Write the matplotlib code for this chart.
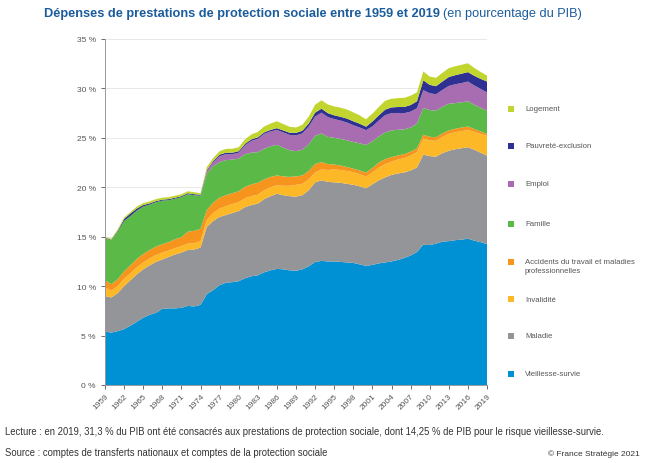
import matplotlib.pyplot as plt
from matplotlib.patches import Rectangle

plt.rcParams['font.family'] = ['Liberation Sans', 'DejaVu Sans']

# années 1959 -> 2019
annees = list(range(1959, 2020))

# part du PIB (%) par risque
vieillesse = [5.4, 5.3, 5.45, 5.65, 6.0, 6.4, 6.8, 7.1, 7.3, 7.7,
              7.75, 7.75, 7.8, 8.0, 7.95, 8.1, 9.2, 9.6, 10.1, 10.35,
              10.4, 10.5, 10.8, 11.0, 11.1, 11.4, 11.6, 11.75, 11.7, 11.6,
              11.55, 11.7, 12.0, 12.45, 12.55, 12.5, 12.5, 12.45, 12.4, 12.35,
              12.2, 12.05, 12.15, 12.3, 12.4, 12.5, 12.65, 12.85, 13.1, 13.45,
              14.2, 14.15, 14.3, 14.5, 14.55, 14.65, 14.7, 14.8, 14.6, 14.45,
              14.25]
maladie = [3.6, 3.55, 3.85, 4.35, 4.6, 4.8, 4.9, 5.0, 5.15, 5.0,
           5.2, 5.45, 5.6, 5.65, 5.75, 5.8, 6.8, 7.0, 6.9, 6.85,
           7.0, 7.1, 7.2, 7.2, 7.25, 7.4, 7.5, 7.6, 7.5, 7.5,
           7.5, 7.5, 7.7, 8.05, 8.15, 8.05, 8.0, 8.0, 7.95, 7.9,
           7.9, 7.85, 8.15, 8.4, 8.6, 8.75, 8.75, 8.65, 8.6, 8.55,
           9.1, 9.0, 8.8, 8.95, 9.15, 9.2, 9.25, 9.25, 9.2, 9.05,
           8.95]
invalidite = [0.85, 0.7, 0.7, 0.75, 0.7, 0.7, 0.7, 0.7, 0.7, 0.7,
              0.65, 0.65, 0.65, 0.65, 0.65, 0.65, 0.7, 0.8, 0.85, 0.9,
              0.9, 0.9, 0.9, 0.9, 0.9, 0.9, 0.9, 0.85, 0.95, 1.05,
              1.2, 1.15, 1.1, 1.0, 1.1, 1.2, 1.3, 1.3, 1.3, 1.28,
              1.22, 1.18, 1.2, 1.3, 1.35, 1.35, 1.4, 1.45, 1.5, 1.55,
              1.62, 1.58, 1.6, 1.65, 1.7, 1.72, 1.74, 1.75, 1.8, 1.9,
              2.0]
accidents = [0.75, 0.65, 0.7, 0.75, 0.8, 0.85, 0.85, 0.85, 0.85, 0.85,
             0.85, 0.9, 0.9, 1.2, 1.25, 1.25, 1.0, 1.05, 1.1, 1.1,
             1.1, 1.1, 1.15, 1.2, 1.2, 1.1, 1.05, 1.0, 0.95, 0.9,
             0.85, 0.85, 0.85, 0.85, 0.75, 0.6, 0.5, 0.45, 0.4, 0.35,
             0.38, 0.4, 0.45, 0.5, 0.5, 0.45, 0.42, 0.4, 0.4, 0.4,
             0.4, 0.38, 0.36, 0.35, 0.35, 0.35, 0.35, 0.35, 0.3, 0.25,
             0.2]
famille = [4.25, 4.45, 4.8, 5.1, 5.0, 4.9, 4.8, 4.6, 4.5, 4.4,
           4.25, 4.1, 4.05, 3.8, 3.6, 3.3, 3.7, 3.7, 3.6, 3.55,
           3.4, 3.3, 3.3, 3.2, 3.1, 3.1, 3.1, 3.1, 2.9, 2.7,
           2.55, 2.6, 2.7, 2.85, 2.9, 2.75, 2.7, 2.7, 2.7, 2.7,
           2.75, 2.8, 2.7, 2.65, 2.7, 2.7, 2.6, 2.5, 2.45, 2.5,
           2.7, 2.7, 2.7, 2.7, 2.7, 2.6, 2.55, 2.55, 2.45, 2.4,
           2.35]
emploi = [0.0, 0.0, 0.0, 0.0, 0.0, 0.0, 0.0, 0.0, 0.0, 0.0,
          0.0, 0.0, 0.0, 0.0, 0.0, 0.05, 0.25, 0.4, 0.6, 0.6,
          0.55, 0.6, 0.9, 1.2, 1.35, 1.5, 1.5, 1.5, 1.55, 1.55,
          1.6, 1.65, 1.8, 1.95, 2.1, 2.0, 1.9, 1.85, 1.8, 1.7,
          1.6, 1.5, 1.5, 1.6, 1.75, 1.75, 1.7, 1.65, 1.6, 1.55,
          1.8, 1.7, 1.65, 1.7, 1.8, 1.9, 1.95, 2.0, 1.95, 1.9,
          1.85]
pauvrete = [0.05, 0.05, 0.1, 0.2, 0.25, 0.2, 0.15, 0.12, 0.1, 0.1,
            0.1, 0.1, 0.1, 0.1, 0.1, 0.1, 0.1, 0.12, 0.15, 0.15,
            0.15, 0.15, 0.15, 0.15, 0.15, 0.15, 0.15, 0.18, 0.2, 0.22,
            0.25, 0.27, 0.3, 0.4, 0.4, 0.4, 0.38, 0.38, 0.4, 0.4,
            0.38, 0.35, 0.5, 0.52, 0.55, 0.58, 0.6, 0.62, 0.67, 0.7,
            1.0, 0.85, 0.82, 0.85, 0.9, 0.92, 0.95, 0.95, 0.98, 1.02,
            1.1]
logement = [0.1, 0.1, 0.15, 0.15, 0.15, 0.2, 0.2, 0.2, 0.2, 0.2,
            0.2, 0.2, 0.2, 0.2, 0.2, 0.15, 0.3, 0.3, 0.35, 0.38,
            0.4, 0.4, 0.45, 0.5, 0.55, 0.6, 0.65, 0.7, 0.65, 0.6,
            0.55, 0.6, 0.7, 0.8, 0.85, 0.88, 0.9, 0.92, 0.92, 0.9,
            0.85, 0.75, 0.8, 0.85, 0.9, 0.88, 0.9, 0.92, 0.95, 0.9,
            0.9, 0.84, 0.85, 0.88, 0.9, 0.9, 0.9, 0.9, 0.8, 0.7,
            0.6]

series = [vieillesse, maladie, invalidite, accidents, famille, emploi, pauvrete, logement]
couleurs = ['#0090d4', '#939598', '#fdb827', '#f7941d', '#5bb947', '#a86cb0', '#2e3192', '#c2d52f']
noms = ['Vieillesse-survie', 'Maladie', 'Invalidité',
        'Accidents du travail et maladies\nprofessionnelles',
        'Famille', 'Emploi', 'Pauvreté-exclusion', 'Logement']

W, H = 646, 464
fig = plt.figure(figsize=(W / 100, H / 100), dpi=100)
ax = fig.add_axes([105 / W, 1 - 386 / H, (487 - 105) / W, (386 - 40) / H])

ax.stackplot(annees, *series, colors=couleurs, linewidth=0)
ax.set_xlim(1959, 2019)
ax.set_ylim(0, 35)

ax.set_yticks(range(0, 36, 5))
ax.set_yticklabels([f"{v} %" for v in range(0, 36, 5)])
ax.set_xticks(range(1959, 2020, 3))
ax.set_xticklabels([str(a) for a in range(1959, 2020, 3)], rotation=45,
                   ha='right', rotation_mode='anchor')
ax.tick_params(axis='both', labelsize=6, colors='#555555', length=3, width=0.6)
ax.tick_params(axis='x', pad=2)

ax.yaxis.grid(True, color='#e8e8e8', lw=0.7)
ax.set_axisbelow(True)
for s in ['top', 'right']:
    ax.spines[s].set_visible(False)
ax.spines['left'].set_color('#999999')
ax.spines['bottom'].set_color('#999999')
ax.spines['left'].set_linewidth(0.7)
ax.spines['bottom'].set_linewidth(0.7)

# légende manuelle, de haut en bas
pos_y = [375, 337, 300, 263, 225, 185, 147, 110]
for nom, c, y in zip(noms, couleurs, pos_y):
    fig.add_artist(Rectangle((508 / W, 1 - (y + 3) / H), 6 / W, 6 / H,
                             transform=fig.transFigure, color=c, lw=0))
    if '\n' in nom:
        fig.text(525 / W, 1 - (y - 4.5) / H, nom, fontsize=5.6, color='#555555',
                 va='top', linespacing=1.45)
    else:
        fig.text(525 / W, 1 - y / H, nom, fontsize=5.6, color='#555555', va='center')

# titre
t1 = fig.text(44 / W, 1 - 14 / H, "Dépenses de prestations de protection sociale entre 1959 et 2019",
              fontsize=9.2, fontweight='bold', color='#1b5c9c', va='center')
fig.canvas.draw()
bb = t1.get_window_extent()
fig.text((bb.x1 + 3) / W, 1 - 14 / H, "(en pourcentage du PIB)",
         fontsize=9.2, color='#1b5c9c', va='center')

# notes
fig.text(5 / W, 1 - 432 / H,
         "Lecture : en 2019, 31,3 % du PIB ont été consacrés aux prestations de protection sociale, "
         "dont 14,25 % de PIB pour le risque vieillesse-survie.",
         fontsize=6.85, color='#333333', va='center')
fig.text(5 / W, 1 - 453 / H,
         "Source : comptes de transferts nationaux et comptes de la protection sociale",
         fontsize=6.85, color='#333333', va='center')
fig.text(640 / W, 1 - 454 / H, "© France Stratégie 2021",
         fontsize=6, color='#333333', va='center', ha='right')

fig.savefig('out.png', dpi=100)
